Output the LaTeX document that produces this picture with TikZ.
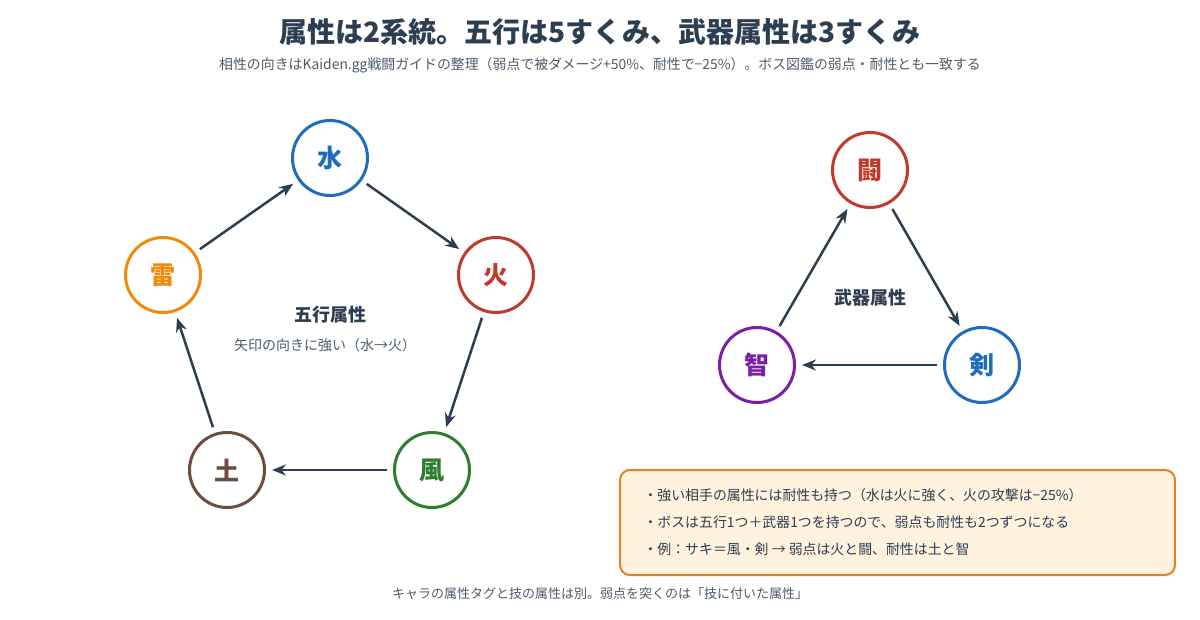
\documentclass[tikz,border=0pt]{standalone}
\usepackage{fontspec}
\setmainfont{Noto Sans CJK JP}
\usetikzlibrary{arrows.meta}
\definecolor{ink}{HTML}{2C3E50}
\definecolor{cwater}{HTML}{1F6BBF}
\definecolor{cfire}{HTML}{C0392B}
\definecolor{cwind}{HTML}{2E7D32}
\definecolor{cearth}{HTML}{6D4C41}
\definecolor{cthunder}{HTML}{EF8A0C}
\definecolor{cwis}{HTML}{7B1FA2}
\definecolor{boxfill}{HTML}{FFF3E0}
\definecolor{boxline}{HTML}{E67E22}
\tikzset{
  elem/.style={circle,draw=#1,line width=3pt,fill=white,minimum size=75pt,inner sep=0pt,
    text=#1,font=\fontsize{25}{25}\selectfont\bfseries},
  beats/.style={-{Stealth[length=14pt,width=11pt]},draw=ink,line width=2.5pt,shorten >=6pt,shorten <=6pt},
}
\begin{document}
\begin{tikzpicture}[x=1pt,y=-1pt]
  \useasboundingbox (0,0) rectangle (1200,620);
  % titles
  \node (title) at (600,32) {\fontsize{28}{28}\selectfont\bfseries\color{ink}属性は2系統。五行は5すくみ、武器属性は3すくみ};
  \node (sub) at (600,65) {\fontsize{13.9}{14}\selectfont\color{ink!85}相性の向きはKaiden.gg戦闘ガイドの整理（弱点で被ダメージ+50\%、耐性で−25\%）。ボス図鑑の弱点・耐性とも一致する};
  % five elements
  \node[elem=cwater] (water) at (330,158) {水};
  \node[elem=cfire] (fire) at (496,275) {火};
  \node[elem=cwind] (wind) at (432,470) {風};
  \node[elem=cearth] (earth) at (227,470) {土};
  \node[elem=cthunder] (thunder) at (163,275) {雷};
  \draw[beats] (thunder) -- (water);
  \draw[beats] (water) -- (fire);
  \draw[beats] (fire) -- (wind);
  \draw[beats] (wind) -- (earth);
  \draw[beats] (earth) -- (thunder);
  \node (fivelbl) at (330,315) {\fontsize{18}{18}\selectfont\bfseries\color{ink}五行属性};
  \node (fivenote) at (325,345) {\fontsize{14}{14}\selectfont\color{ink!85}矢印の向きに強い（水→火）};
  % weapons
  \node[elem=cfire] (fight) at (870,170) {闘};
  \node[elem=cwater] (sword) at (982,365) {剣};
  \node[elem=cwis] (wis) at (757,365) {智};
  \draw[beats] (fight) -- (sword);
  \draw[beats] (sword) -- (wis);
  \draw[beats] (wis) -- (fight);
  \node (weplbl) at (870,298) {\fontsize{18}{18}\selectfont\bfseries\color{ink}武器属性};
  % note box
  \draw[boxline,fill=boxfill,line width=2pt,rounded corners=10pt] (620,470) rectangle (1175,575);
  \begin{scope}[every node/.style={anchor=west,font=\fontsize{13.9}{14}\selectfont,text=ink}]
    \node (n1) at (640,495) {・強い相手の属性には耐性も持つ（水は火に強く、火の攻撃は−25\%）};
    \node (n2) at (640,522) {・ボスは五行1つ＋武器1つを持つので、弱点も耐性も2つずつになる};
    \node (n3) at (640,549) {・例：サキ＝風・剣 → 弱点は火と闘、耐性は土と智};
  \end{scope}
  \node (foot) at (600,594) {\fontsize{13}{13}\selectfont\color{ink!85}キャラの属性タグと技の属性は別。弱点を突くのは「技に付いた属性」};
\end{tikzpicture}
\end{document}
